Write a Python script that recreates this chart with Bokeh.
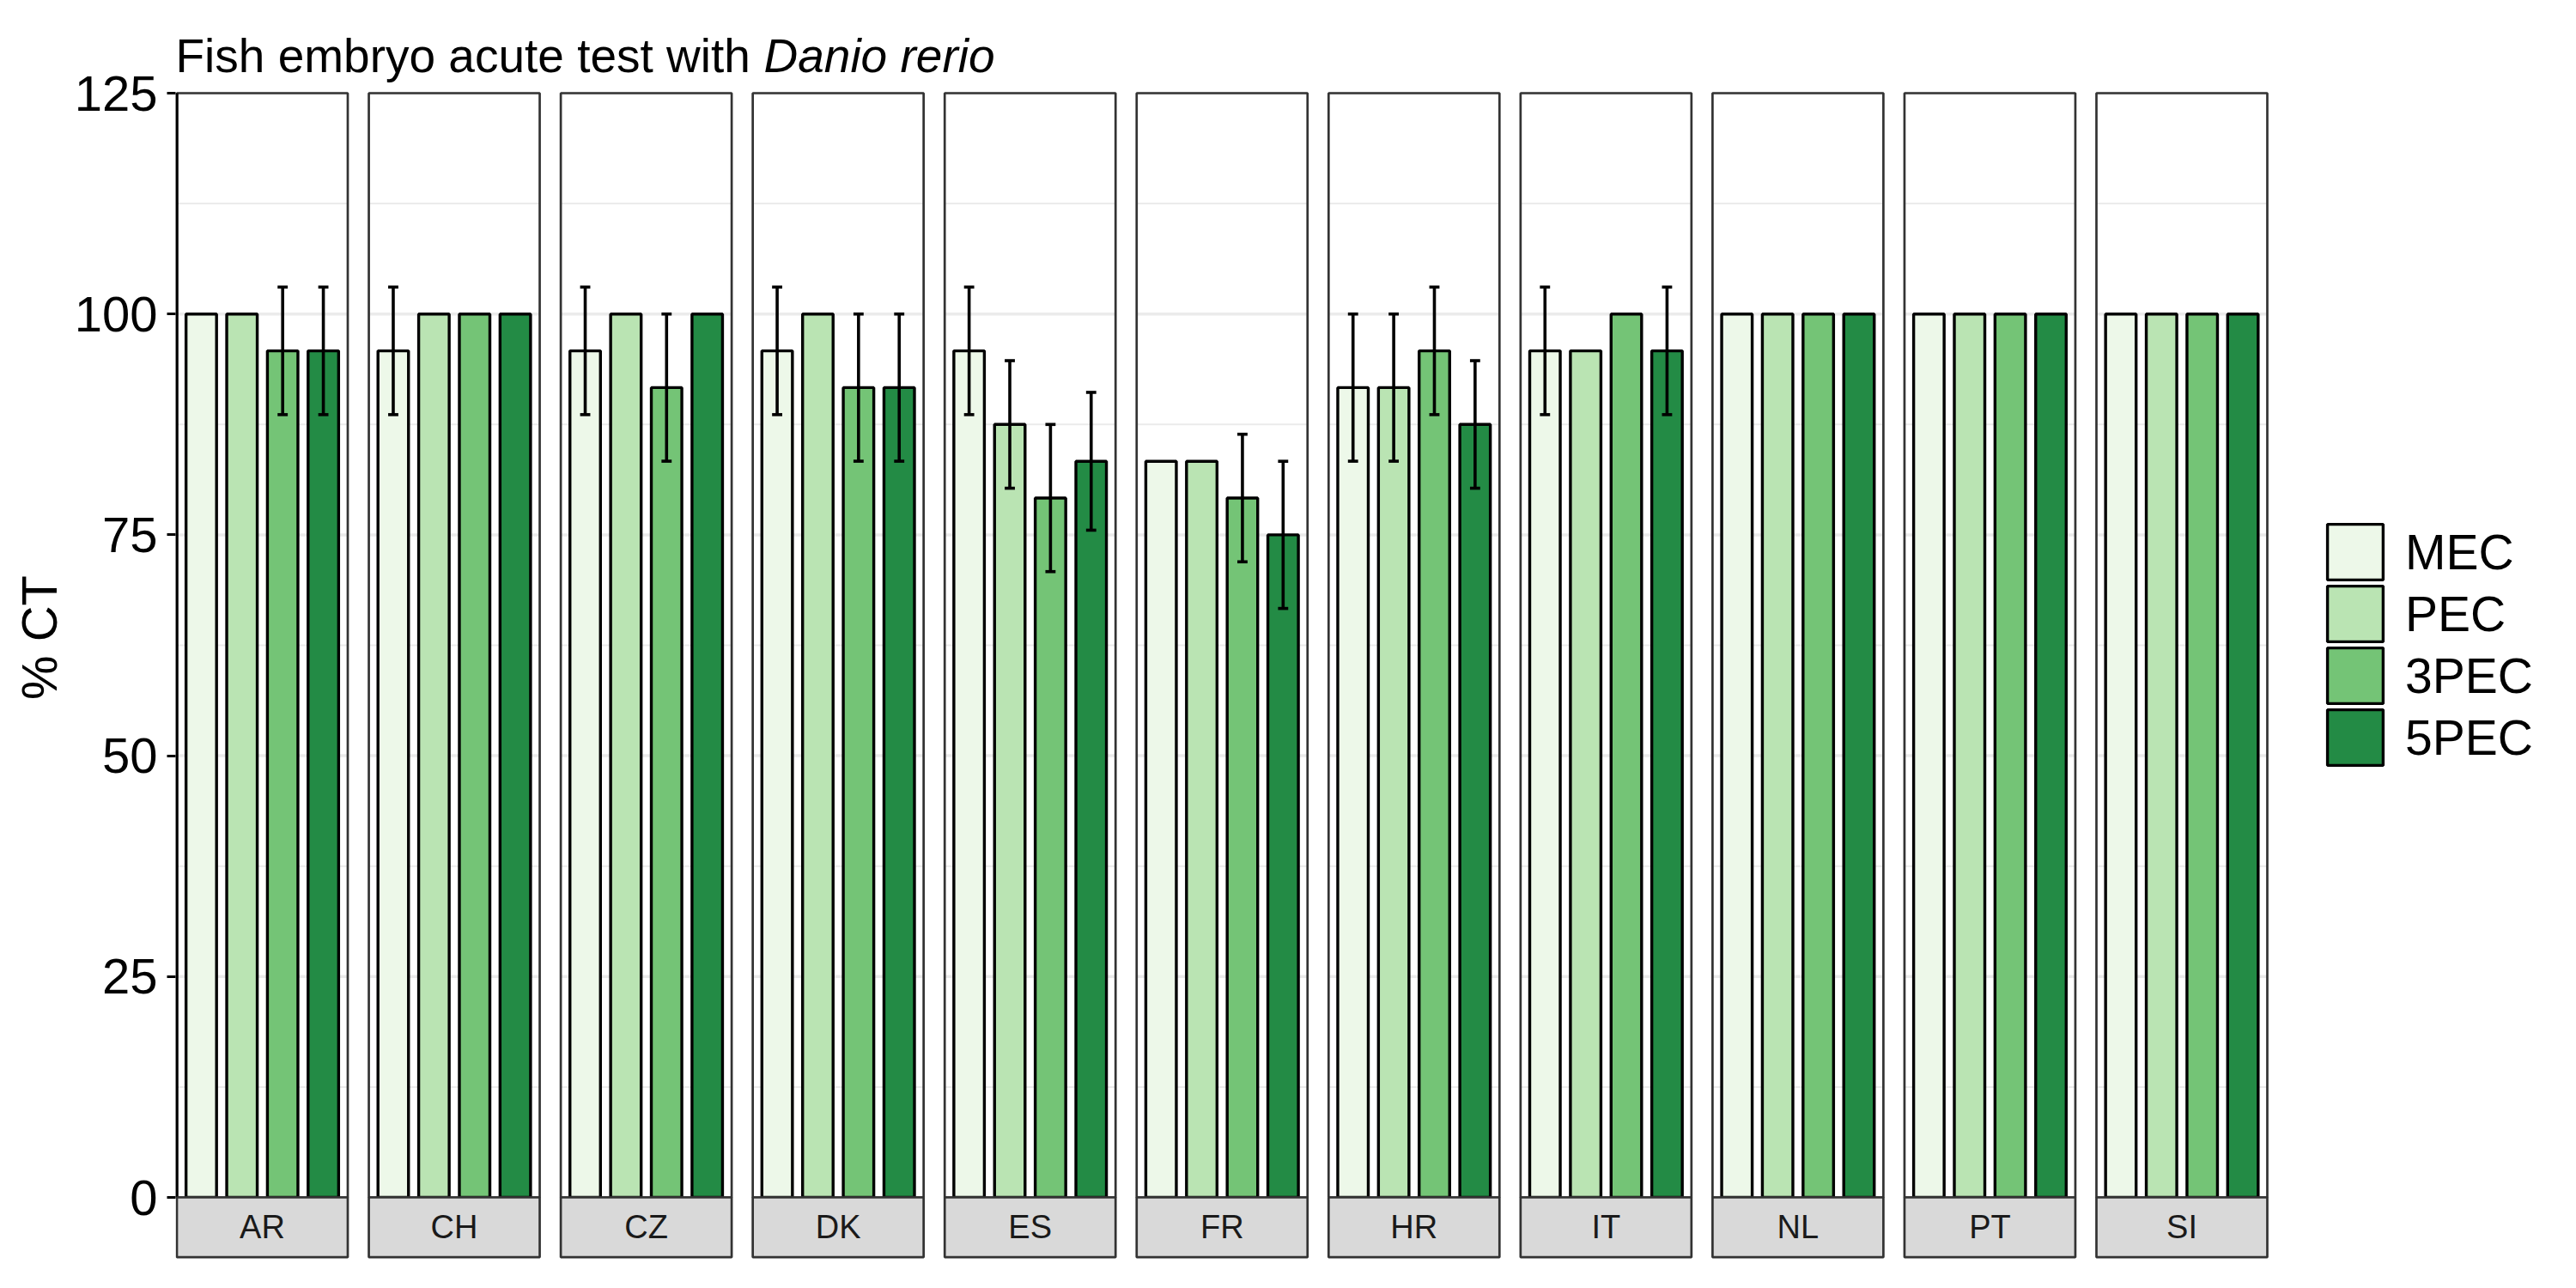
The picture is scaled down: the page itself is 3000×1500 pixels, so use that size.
import numpy as np
from bokeh.plotting import figure
from bokeh.models import ColumnDataSource, FixedTicker, Legend, LegendItem, Range1d
from bokeh.core.properties import value
from bokeh.embed import file_html
from bokeh.resources import INLINE

# ---------------- data ----------------
countries = ["AR", "CH", "CZ", "DK", "ES", "FR", "HR", "IT", "NL", "PT", "SI"]
treatments = ["MEC", "PEC", "3PEC", "5PEC"]
colors = ["#EDF8E9", "#BAE4B3", "#74C476", "#238B45"]

mec_mean = [100, 95.83, 95.83, 95.83, 95.83, 83.33, 91.67, 95.83, 100, 100, 100]
mec_sd = [0, 7.22, 7.22, 7.22, 7.22, 0, 8.33, 7.22, 0, 0, 0]
pec_mean = [100, 100, 100, 100, 87.5, 83.33, 91.67, 95.83, 100, 100, 100]
pec_sd = [0, 0, 0, 0, 7.22, 0, 8.33, 0, 0, 0, 0]
pec3_mean = [95.83, 100, 91.67, 91.67, 79.17, 79.17, 95.83, 100, 100, 100, 100]
pec3_sd = [7.22, 0, 8.33, 8.33, 8.33, 7.22, 7.22, 0, 0, 0, 0]
pec5_mean = [95.83, 100, 100, 91.67, 83.33, 75, 87.5, 95.83, 100, 100, 100]
pec5_sd = [7.22, 0, 0, 8.33, 7.8, 8.33, 7.22, 7.22, 0, 0, 0]

y_ticks = [0, 25, 50, 75, 100, 125]
y_minor = [12.5, 37.5, 62.5, 87.5, 112.5]
title_plain = "Fish embryo acute test with "
title_italic = "Danio rerio"
y_label = "% CT"

# ---------------- layout ----------------
FONT = "Liberation Sans"
W, H = 2984, 1484
LEFT = 204                    # frame left (figure px)
PXU = 199 / 4.2               # px per x unit
PYU = 1286 / 125              # px per y unit
GAP = 24.55 / PXU
P = 4.2 + GAP                 # panel pitch in x units
ZERO_PX = 1394                # y=0 in figure px from top
x_start = 0.4 - 1.5 / PXU
x_end = x_start + (W - LEFT) / PXU
y_start = -(H - ZERO_PX) / PYU
y_end = ZERO_PX / PYU
STRIP_H = 69.7 / PYU
BAR_W = 0.75
CAP_W = 0.25


def fx(px):  # figure px -> data x
    return x_start + (px - LEFT) / PXU


def fy(py):  # figure px (from top) -> data y
    return (ZERO_PX - py) / PYU


p = figure(width=W, height=H, x_range=Range1d(x_start, x_end),
           y_range=Range1d(y_start, y_end), output_backend="svg",
           toolbar_location=None, x_axis_location=None,
           min_border_left=LEFT, min_border_right=0, min_border_top=0,
           min_border_bottom=0, background_fill_color="white",
           border_fill_color="white")
p.outline_line_color = None
p.grid.visible = False

n = len(countries)
left_edges = [i * P + 0.4 for i in range(n)]
right_edges = [i * P + 4.6 for i in range(n)]
centers = [i * P + 2.5 for i in range(n)]

# grid lines inside each panel
gx0, gx1, gy, gw = [], [], [], []
for i in range(n):
    for yv in y_minor:
        gx0.append(left_edges[i]); gx1.append(right_edges[i]); gy.append(yv); gw.append(2.0)
    for yv in y_ticks:
        gx0.append(left_edges[i]); gx1.append(right_edges[i]); gy.append(yv); gw.append(3.5)
p.segment(x0=gx0, y0=gy, x1=gx1, y1=gy, line_color="#EBEBEB", line_width=gw)

# bars
means = [mec_mean, pec_mean, pec3_mean, pec5_mean]
sds = [mec_sd, pec_sd, pec3_sd, pec5_sd]
bar_renderers = []
for j, t in enumerate(treatments):
    xs = [i * P + 1 + j for i in range(n)]
    src = ColumnDataSource(dict(x=xs, top=means[j], country=countries))
    r = p.vbar(x="x", top="top", bottom=0, width=BAR_W, source=src,
               fill_color=colors[j], line_color="black", line_width=3.4)
    bar_renderers.append(r)

# error bars (mean +/- sd)
ex, elo, ehi = [], [], []
for j in range(len(treatments)):
    for i in range(n):
        if sds[j][i] > 0:
            ex.append(i * P + 1 + j)
            elo.append(means[j][i] - sds[j][i])
            ehi.append(means[j][i] + sds[j][i])
ex = np.array(ex); elo = np.array(elo); ehi = np.array(ehi)
p.segment(x0=ex, y0=elo, x1=ex, y1=ehi, line_color="black", line_width=3.6)
p.segment(x0=ex - CAP_W / 2, y0=ehi, x1=ex + CAP_W / 2, y1=ehi, line_color="black", line_width=3.6)
p.segment(x0=ex - CAP_W / 2, y0=elo, x1=ex + CAP_W / 2, y1=elo, line_color="black", line_width=3.6)

# panel borders
p.quad(left=left_edges, right=right_edges, bottom=0, top=125, fill_color=None,
       line_color="#333333", line_width=2.7)
# y axis line
p.segment(x0=[0.4], y0=[0], x1=[0.4], y1=[125], line_color="black", line_width=3.4)

# strips
p.quad(left=left_edges, right=right_edges, bottom=-STRIP_H, top=0,
       fill_color="#D9D9D9", line_color="#333333", line_width=2.7)
p.text(x=centers, y=[-STRIP_H / 2] * n, text=countries, text_font=value(FONT),
       text_font_size="38px", text_color="#1A1A1A", text_align="center",
       text_baseline="middle")

# title (plain + italic part)
p.text(x=[fx(204)], y=[fy(64)], text=[title_plain], text_font=value(FONT),
       text_font_size="55px", text_color="black", text_align="left",
       text_baseline="alphabetic")
p.text(x=[fx(204 + 685)], y=[fy(64)], text=[title_italic], text_font=value(FONT),
       text_font_size="55px", text_font_style="italic", text_color="black",
       text_align="left", text_baseline="alphabetic")

# y axis
ax = p.yaxis[0]
ax.ticker = FixedTicker(ticks=y_ticks)
ax.axis_label = y_label
ax.axis_label_text_font = FONT
ax.axis_label_text_font_size = "58px"
ax.axis_label_text_font_style = "normal"
ax.axis_label_text_color = "black"
ax.axis_label_standoff = 6
ax.major_label_text_font = FONT
ax.major_label_text_font_size = "58px"
ax.major_label_text_color = "black"
ax.major_label_standoff = 11
ax.major_tick_out = 10
ax.major_tick_in = 0
ax.major_tick_line_width = 3
ax.major_tick_line_color = "black"
ax.minor_tick_line_color = None
ax.axis_line_color = None

# legend: one entry per Legend so keys can sit 72px apart with 65px boxes
KEY = 81          # glyph box (drawn box is 80% of it)
PITCH = 72
LEG_X = 2498      # from frame left
TOP0 = 602        # top of first glyph box (figure px)
for k, (t, r) in enumerate(zip(treatments, bar_renderers)):
    bottom_px = TOP0 + k * PITCH + KEY
    lg = Legend(items=[LegendItem(label=t, renderers=[r])],
                location=(LEG_X, H - bottom_px), glyph_width=KEY, glyph_height=KEY,
                padding=0, margin=0, spacing=0, border_line_color=None,
                background_fill_alpha=0, label_text_font=FONT,
                label_text_font_size="57px", label_text_color="black",
                label_standoff=18, label_height=20)
    p.add_layout(lg)

open("out.html", "w").write(file_html(p, INLINE))
